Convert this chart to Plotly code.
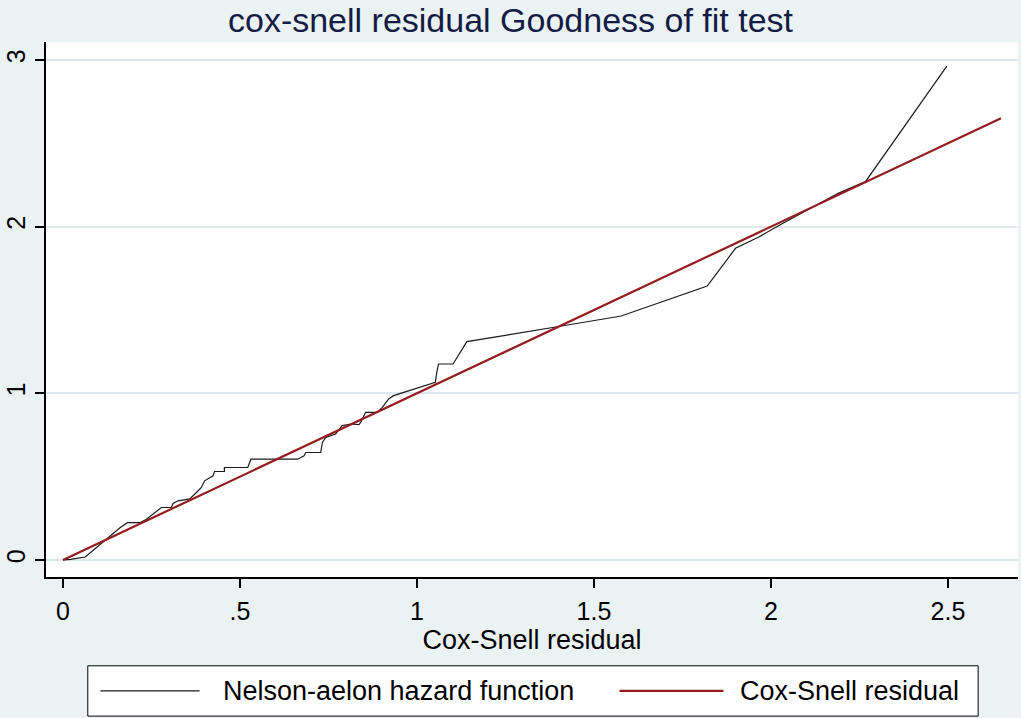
import plotly.graph_objects as go

# Nelson-Aalen cumulative hazard vs Cox-Snell residual
nelson_x = [0, 0.021, 0.063, 0.077, 0.096, 0.119, 0.133, 0.161, 0.182, 0.217,
            0.236, 0.255, 0.278, 0.306, 0.311, 0.325, 0.358, 0.377, 0.391, 0.400,
            0.424, 0.428, 0.456, 0.456, 0.522, 0.531, 0.663, 0.681, 0.686, 0.728,
            0.733, 0.742, 0.770, 0.789, 0.813, 0.836, 0.841, 0.855, 0.888, 0.902,
            0.920, 0.934, 0.995, 1.052, 1.056, 1.061, 1.102, 1.141, 1.409, 1.577,
            1.820, 1.900, 1.967, 2.034, 2.190, 2.267, 2.497]
nelson_y = [0, 0.004, 0.018, 0.044, 0.074, 0.118, 0.148, 0.194, 0.224, 0.224,
            0.244, 0.275, 0.315, 0.315, 0.339, 0.355, 0.367, 0.405, 0.435, 0.475,
            0.505, 0.531, 0.531, 0.555, 0.555, 0.605, 0.605, 0.625, 0.645, 0.645,
            0.705, 0.735, 0.756, 0.806, 0.816, 0.812, 0.826, 0.886, 0.886, 0.916,
            0.966, 0.986, 1.026, 1.066, 1.126, 1.176, 1.176, 1.31, 1.404, 1.464,
            1.644, 1.87, 1.94, 2.02, 2.20, 2.27, 2.963]

# reference line: residual against itself
cox_snell = [0, 2.65]

x_ticks = [0, 0.5, 1, 1.5, 2, 2.5]
x_tick_labels = ["0", ".5", "1", "1.5", "2", "2.5"]
y_ticks = [0, 1, 2, 3]
y_tick_labels = ["0", "1", "2", "3"]

legend_names = ["Nelson-aelon hazard function", "Cox-Snell residual"]

FONT = "Liberation Sans, Arial, sans-serif"
BLACK_LINE = "#1a1a1a"
RED_LINE = "#951b1e"

fig = go.Figure()

fig.add_trace(go.Scatter(
    x=nelson_x, y=nelson_y, mode="lines",
    line=dict(color=BLACK_LINE, width=1.2),
    name=legend_names[0], showlegend=False
))
fig.add_trace(go.Scatter(
    x=cox_snell, y=cox_snell, mode="lines",
    line=dict(color=RED_LINE, width=2.2),
    name=legend_names[1], showlegend=False
))

# hand-drawn legend box under the axis (Stata style)
leg_top, leg_bot = -0.166, -0.26
leg_mid = (leg_top + leg_bot) / 2
shapes = [
    dict(type="rect", xref="paper", yref="paper", x0=0.043, x1=0.959,
         y0=leg_bot, y1=leg_top, line=dict(color="black", width=1),
         fillcolor="white", layer="above"),
    dict(type="line", xref="paper", yref="paper", x0=0.056, x1=0.158,
         y0=leg_mid, y1=leg_mid, line=dict(color=BLACK_LINE, width=1.2)),
    dict(type="line", xref="paper", yref="paper", x0=0.59, x1=0.697,
         y0=leg_mid, y1=leg_mid, line=dict(color=RED_LINE, width=2.2)),
]
annotations = [
    dict(text=legend_names[0], xref="paper", yref="paper", x=0.18, y=leg_mid,
         xanchor="left", yanchor="middle", showarrow=False,
         font=dict(family=FONT, size=27, color="black")),
    dict(text=legend_names[1], xref="paper", yref="paper", x=0.712, y=leg_mid,
         xanchor="left", yanchor="middle", showarrow=False,
         font=dict(family=FONT, size=27, color="black")),
]

fig.update_layout(
    width=1021, height=718,
    margin=dict(l=46, r=3, t=42, b=141),
    paper_bgcolor="#eaf2f3",
    plot_bgcolor="white",
    title=dict(text="cox-snell residual Goodness of fit test", x=0.5, xanchor="center",
               y=0.972, yanchor="middle",
               font=dict(family=FONT, size=34, color="#141c45")),
    xaxis=dict(
        range=[-0.048, 2.698], tickvals=x_ticks, ticktext=x_tick_labels,
        showgrid=False, zeroline=False, showline=True, linecolor="black", linewidth=1.5,
        ticks="outside", ticklen=9, tickwidth=1.5, tickcolor="black",
        ticklabelstandoff=2, automargin=False,
        tickfont=dict(family=FONT, size=25, color="black"),
        title=dict(text="Cox-Snell residual", standoff=2,
                   font=dict(family=FONT, size=27, color="black")),
    ),
    yaxis=dict(
        range=[-0.102, 3.108], tickvals=y_ticks, ticktext=y_tick_labels,
        showgrid=True, gridcolor="#dde8ec", gridwidth=1.5,
        zeroline=False, showline=True, linecolor="black", linewidth=1.5,
        ticks="outside", ticklen=9, tickwidth=1.5, tickcolor="black",
        tickangle=-90, ticklabelstandoff=0, automargin=False,
        tickfont=dict(family=FONT, size=25, color="black"),
    ),
    shapes=shapes,
    annotations=annotations,
    showlegend=False,
)

fig.write_html("out.html", config={"displayModeBar": False},
               post_script="document.body.style.margin='0';")
